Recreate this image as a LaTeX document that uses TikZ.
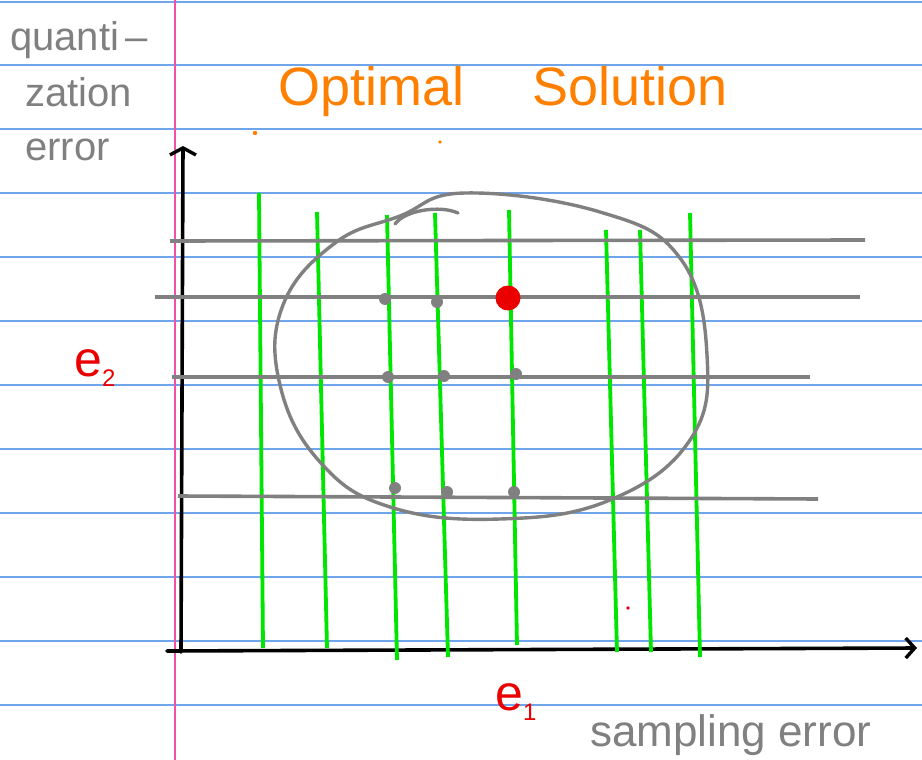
\documentclass[tikz,border=0pt]{standalone}
\usepackage{fontspec}
\setmainfont{Liberation Sans}
\usetikzlibrary{arrows.meta}
\definecolor{rulecol}{RGB}{110,165,235}
\definecolor{margincol}{RGB}{240,80,170}
\definecolor{inkgray}{RGB}{128,128,128}
\definecolor{inkgreen}{RGB}{0,230,0}
\definecolor{inkorange}{RGB}{255,128,0}
\definecolor{inkred}{RGB}{235,0,0}

\begin{document}
\begin{tikzpicture}[
    x=1pt, y=-1pt,
    rule/.style={rulecol, line width=1.3pt},
    hline/.style={inkgray, line width=3.6pt},
    vline/.style={inkgreen, line width=3.8pt},
    axis/.style={black, line width=3.6pt, line cap=round},
    pt/.style={circle, fill=inkgray, inner sep=0pt, minimum size=12pt},
    lbl/.style={inkgray, font=\fontsize{40}{44}\selectfont, inner sep=0pt},
    var/.style={inkred, font=\fontsize{50}{54}\selectfont, inner sep=0pt}
  ]
  \useasboundingbox (0,0) rectangle (922,760);
  \fill[white] (0,0) rectangle (922,760);

  % Paper
  \foreach \yy in {2,65,129,193,257,321,385,449,513,577,641,705}
    \draw[rule] (0,\yy) -- (922,\yy);
  \draw[margincol, line width=1.3pt] (175,0) -- (175,760);

  % Axes
  \coordinate (origin) at (181,652);
  \coordinate (ytip)   at (183,146);
  \coordinate (xstart) at (167,651);
  \coordinate (xtip)   at (917,648);
  \draw[axis, -{Straight Barb[length=7pt, width=26pt, line width=3.4pt]}] (origin) -- (ytip);
  \draw[axis, -{Straight Barb[length=9pt, width=20pt, line width=3.4pt]}] (xstart) -- (xtip);

  % Grid of values
  \foreach \xa/\ya/\xb/\yb in {259/193/263/648, 317/212/327/648, 387/215/397/660,
      435/213/448/657, 509/210/517/645, 606/230/617/652, 640/230/651/652, 690/213/700/657}
    \draw[vline] (\xa,\ya) -- (\xb,\yb);
  \foreach \xa/\ya/\xb/\yb in {170/241/865/240, 155/297/860/297, 172/377/810/377, 178/496/818/499}
    \draw[hline] (\xa,\ya) -- (\xb,\yb);

  % Feasible region
  \draw[inkgray, line width=3.4pt] plot[smooth cycle, tension=0.7] coordinates {
    (465,193) (600,212) (680,258) (707,355) (690,440) (610,500) (500,519)
    (390,507) (320,462) (280,385) (283,305) (335,243) (400,216)};
  \draw[inkgray, line width=3.4pt, line cap=round] (395,224) .. controls (405,210) and (440,205) .. (458,213);

  % Candidate points
  \foreach \px/\py [count=\i] in {385/299, 437/302, 388/377, 444/376, 516/374, 395/488, 447/492, 514/492}
    \node[pt] (p\i) at (\px,\py) {};
  \node[circle, fill=inkred, inner sep=0pt, minimum size=25pt] (best) at (508,298) {};

  % Stray marks
  \fill[inkorange] (255,133) circle (2.2pt);
  \fill[inkorange] (440,142) circle (1.8pt);
  \fill[inkred] (628,608) circle (1.8pt);

  % Labels
  \node[lbl, anchor=west] (q1) at (10,40) {quanti\,--};
  \node[lbl, anchor=west] (q2) at (25,92) {zation};
  \node[lbl, anchor=west] (q3) at (25,150) {error};
  \node[inkorange, font=\fontsize{54}{58}\selectfont, anchor=west, inner sep=0pt] (title) at (278,92) {Optimal\hspace{68pt}Solution};
  \node[var] (e2) at (95,368) {e\raisebox{-10pt}{\fontsize{24}{26}\selectfont 2}};
  \node[var] (e1) at (516,702) {e\raisebox{-10pt}{\fontsize{24}{26}\selectfont 1}};
  \node[lbl, anchor=west, font=\fontsize{44}{48}\selectfont] (samp) at (590,735) {sampling error};
\end{tikzpicture}
\end{document}
